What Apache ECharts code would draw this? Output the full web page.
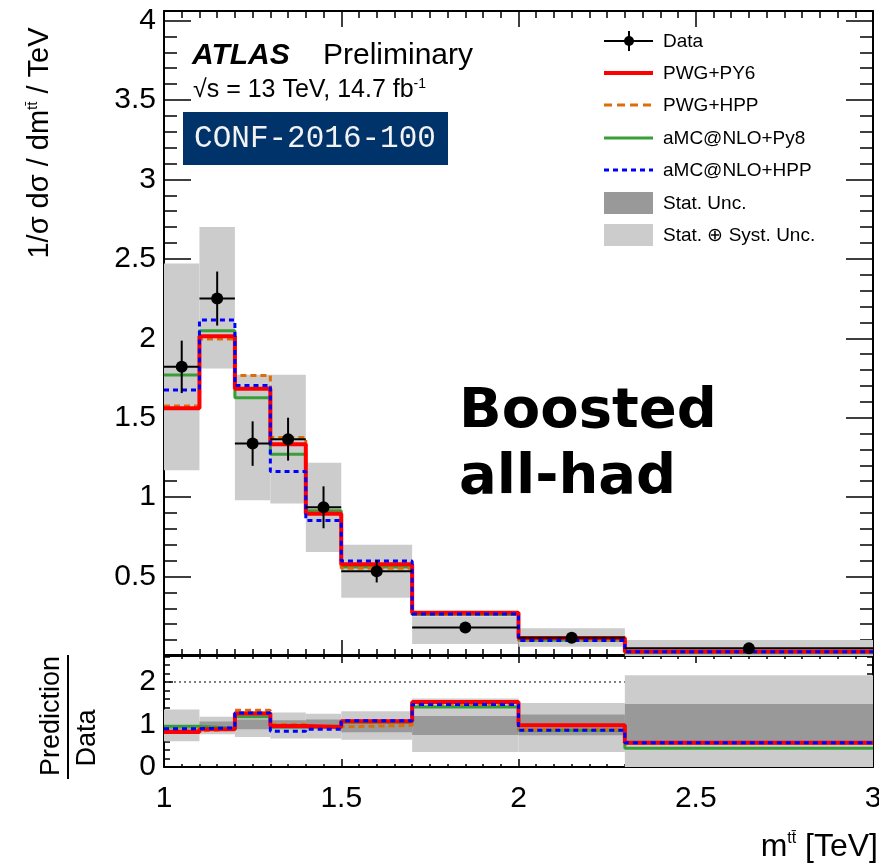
<!DOCTYPE html>
<html>
<head>
<meta charset="utf-8">
<script src="https://cdn.jsdelivr.net/npm/echarts@6/dist/echarts.min.js"></script>
<style>
html,body{margin:0;padding:0;background:#fff}
#chart{width:879px;height:863px}
</style>
</head>
<body>
<div id="chart"></div>
<script>
// m_tt bin edges [TeV]
const binEdges = [1.0, 1.1, 1.2, 1.3, 1.4, 1.5, 1.7, 2.0, 2.3, 3.0];

// Normalised differential cross-section, data
const dataValues  = [1.82, 2.25, 1.337, 1.365, 0.936, 0.533, 0.18, 0.115, 0.048];
const dataStatErr = [0.165, 0.17, 0.14, 0.135, 0.132, 0.07, 0.01, 0.006, 0.003];
const totalUncLow  = [1.17, 1.81, 0.98, 0.96, 0.654, 0.366, 0.075, 0.058, 0.0];
const totalUncHigh = [2.47, 2.70, 1.77, 1.77, 1.216, 0.70, 0.25, 0.174, 0.10];

// MC predictions
const pwgPy6 = [1.56, 2.012, 1.682, 1.333, 0.895, 0.577, 0.272, 0.113, 0.029];
const pwgHpp = [1.574, 1.996, 1.766, 1.375, 0.90, 0.552, 0.265, 0.102, 0.027];
const amcPy8 = [1.768, 2.048, 1.626, 1.27, 0.915, 0.56, 0.262, 0.099, 0.021];
const amcHpp = [1.674, 2.115, 1.703, 1.162, 0.853, 0.598, 0.265, 0.097, 0.027];

// Prediction / Data
const ratioPwgPy6 = [0.824, 0.887, 1.256, 0.965, 0.94, 1.075, 1.53, 0.98, 0.573];
const ratioPwgHpp = [0.85, 0.89, 1.334, 1.0, 0.945, 0.98, 1.47, 0.88, 0.57];
const ratioAmcPy8 = [0.957, 0.91, 1.18, 0.94, 0.965, 1.05, 1.41, 0.864, 0.44];
const ratioAmcHpp = [0.9, 0.92, 1.27, 0.84, 0.89, 1.09, 1.47, 0.864, 0.57];
const ratioStatLow  = [0.87, 0.93, 0.887, 0.89, 0.887, 0.82, 0.75, 0.746, 0.52];
const ratioStatHigh = [0.95, 1.07, 1.115, 1.1, 1.12, 1.12, 1.2, 1.233, 1.48];
const ratioTotLow   = [0.605, 0.77, 0.706, 0.668, 0.67, 0.64, 0.353, 0.353, -0.2];
const ratioTotHigh  = [1.35, 1.18, 1.31, 1.28, 1.255, 1.31, 1.61, 1.506, 2.16];
const ratioRefLine = 2;

// Tick labels
const xTickLabels = ['1', '1.5', '2', '2.5', '3'];
const mainYTickLabels = ['0.5', '1', '1.5', '2', '2.5', '3', '3.5', '4'];
const ratioYTickLabels = ['0', '1', '2'];

const FONT = "'Liberation Sans', Arial, Helvetica, sans-serif";
const COL = {
  red: '#ff0000', orange: '#dc6e0a', green: '#389e38', blue: '#0000ff',
  stat: '#999999', tot: '#cccccc'
};

const chart = echarts.init(document.getElementById('chart'), null, {renderer: 'canvas'});

function labelFormatter(list) {
  return function (v) {
    const s = String(+Number(v).toFixed(3));
    return list.indexOf(s) >= 0 ? s : '';
  };
}

function stepData(vals) {
  const pts = vals.map((v, i) => [binEdges[i], v]);
  pts.push([binEdges[binEdges.length - 1], vals[vals.length - 1]]);
  return pts;
}

function bandSeries(lo, hi, color, xi, yi, z) {
  return {
    type: 'custom', xAxisIndex: xi, yAxisIndex: yi, z: z, silent: true,
    data: lo.map((l, i) => [binEdges[i], binEdges[i + 1], l, hi[i]]),
    encode: {x: [0, 1], y: [2, 3]},
    renderItem: function (params, api) {
      const a = api.coord([api.value(0), api.value(3)]);
      const b = api.coord([api.value(1), api.value(2)]);
      const cs = params.coordSys;
      const shape = echarts.graphic.clipRectByRect(
        {x: a[0], y: a[1], width: b[0] - a[0], height: b[1] - a[1]},
        {x: cs.x, y: cs.y, width: cs.width, height: cs.height});
      if (!shape) return null;
      return {type: 'rect', shape: shape, style: {fill: color}};
    }
  };
}

function stepSeries(vals, color, width, dash, xi, yi, z) {
  return {
    type: 'line', step: 'end', xAxisIndex: xi, yAxisIndex: yi, z: z,
    data: stepData(vals), symbol: 'none', silent: true, clip: true,
    lineStyle: {color: color, width: width, type: dash || 'solid', cap: 'butt'}
  };
}

// Axes: major ticks with labels, plus separate minor-tick axes
function xAxisDef(grid, pos, showLabels, majorLen, minorLen) {
  return {
    type: 'value', gridIndex: grid, position: pos, offset: 0, min: 1, max: 3, interval: 0.5,
    axisLine: {show: true, onZero: false, lineStyle: {color: '#000', width: 2}},
    axisTick: {show: true, inside: true, length: majorLen, lineStyle: {color: '#000', width: 1.5}},
    minorTick: {show: true, splitNumber: 10, length: minorLen, lineStyle: {color: '#000', width: 1.5}},
    splitLine: {show: false}, minorSplitLine: {show: false},
    axisLabel: {show: showLabels, color: '#000', fontFamily: FONT, fontSize: 30, margin: 17,
      formatter: labelFormatter(xTickLabels)}
  };
}
function yAxisDef(grid, pos, min, max, interval, len, labels, showLine) {
  return {
    type: 'value', gridIndex: grid, position: pos, offset: 0, min: min, max: max, interval: interval,
    axisLine: {show: showLine, onZero: false, lineStyle: {color: '#000', width: 2}},
    axisTick: {show: true, inside: true, length: len, lineStyle: {color: '#000', width: 1.5}},
    splitLine: {show: false},
    axisLabel: labels ? {show: true, color: '#000', fontFamily: FONT, fontSize: 30, margin: 8,
      formatter: labelFormatter(labels)} : {show: false}
  };
}

const MAIN_MAX = 4.06, RATIO_MAX = 2.635;

const series = [
  // main panel
  bandSeries(totalUncLow, totalUncHigh, COL.tot, 0, 0, 1),
  stepSeries(amcPy8, COL.green, 3, null, 0, 0, 3),
  stepSeries(pwgHpp, COL.orange, 3, [6, 4], 0, 0, 4),
  stepSeries(pwgPy6, COL.red, 4, null, 0, 0, 5),
  stepSeries(amcHpp, COL.blue, 3, [5, 4], 0, 0, 6),
  {
    type: 'custom', xAxisIndex: 0, yAxisIndex: 0, z: 8, silent: true,
    data: dataValues.map((v, i) => [binEdges[i], binEdges[i + 1], (binEdges[i] + binEdges[i + 1]) / 2, v, dataStatErr[i]]),
    encode: {x: 2, y: 3},
    renderItem: function (params, api) {
      const x0 = api.value(0), x1 = api.value(1), xc = api.value(2), y = api.value(3), e = api.value(4);
      const pl = api.coord([x0, y]), pr = api.coord([x1, y]);
      const pt = api.coord([xc, y + e]), pb = api.coord([xc, y - e]);
      const pc = api.coord([xc, y]);
      const ls = {stroke: '#000', lineWidth: 2};
      return {type: 'group', children: [
        {type: 'line', shape: {x1: pl[0], y1: pl[1], x2: pr[0], y2: pr[1]}, style: ls},
        {type: 'line', shape: {x1: pt[0], y1: pt[1], x2: pb[0], y2: pb[1]}, style: ls},
        {type: 'circle', shape: {cx: pc[0], cy: pc[1], r: 6}, style: {fill: '#000'}}
      ]};
    }
  },
  // ratio panel
  {
    type: 'line', xAxisIndex: 2, yAxisIndex: 4, z: 0, silent: true, symbol: 'none',
    data: [[1, ratioRefLine], [3, ratioRefLine]],
    lineStyle: {color: '#000', width: 1, type: [2, 3]}
  },
  bandSeries(ratioTotLow, ratioTotHigh, COL.tot, 2, 4, 1),
  bandSeries(ratioStatLow, ratioStatHigh, COL.stat, 2, 4, 2),
  stepSeries(ratioAmcPy8, COL.green, 3, null, 2, 4, 3),
  stepSeries(ratioPwgHpp, COL.orange, 3, [6, 4], 2, 4, 4),
  stepSeries(ratioPwgPy6, COL.red, 4, null, 2, 4, 5),
  stepSeries(ratioAmcHpp, COL.blue, 3, [5, 4], 2, 4, 6)
];

// Legend, labels and annotations
const legendRows = [
  {name: 'Data', kind: 'data', y: 41},
  {name: 'PWG+PY6', kind: 'line', color: COL.red, width: 4, y: 73},
  {name: 'PWG+HPP', kind: 'line', color: COL.orange, width: 3, dash: [8, 5], y: 105},
  {name: 'aMC@NLO+Py8', kind: 'line', color: COL.green, width: 3, y: 138},
  {name: 'aMC@NLO+HPP', kind: 'line', color: COL.blue, width: 3, dash: [5, 4], y: 170},
  {name: 'Stat. Unc.', kind: 'box', color: COL.stat, y: 203},
  {name: 'Stat. \u2295 Syst. Unc.', kind: 'box', color: COL.tot, y: 235}
];
const graphics = [];
legendRows.forEach(function (r) {
  const x0 = 604, x1 = 653;
  if (r.kind === 'data') {
    graphics.push({type: 'line', shape: {x1: x0, y1: r.y, x2: x1, y2: r.y}, style: {stroke: '#000', lineWidth: 2}, z: 10});
    graphics.push({type: 'line', shape: {x1: 629, y1: r.y - 10, x2: 629, y2: r.y + 10}, style: {stroke: '#000', lineWidth: 2}, z: 10});
    graphics.push({type: 'circle', shape: {cx: 629, cy: r.y, r: 5}, style: {fill: '#000'}, z: 10});
  } else if (r.kind === 'line') {
    graphics.push({type: 'line', shape: {x1: x0, y1: r.y, x2: x1, y2: r.y},
      style: {stroke: r.color, lineWidth: r.width, lineDash: r.dash || null}, z: 10});
  } else {
    graphics.push({type: 'rect', shape: {x: x0, y: r.y - 11, width: x1 - x0, height: 22}, style: {fill: r.color}, z: 10});
  }
  graphics.push({type: 'text', x: 663, y: r.y + 1, z: 10,
    style: {text: r.name, fontFamily: FONT, fontSize: 19, fill: '#000', verticalAlign: 'middle', align: 'left'}});
});

graphics.push(
  {type: 'text', x: 192, y: 56, z: 10,
    style: {text: 'ATLAS', fontFamily: FONT, fontSize: 30, fontWeight: 'bold', fontStyle: 'italic', fill: '#000', verticalAlign: 'middle'}},
  {type: 'text', x: 323, y: 56, z: 10,
    style: {text: 'Preliminary', fontFamily: FONT, fontSize: 30, fill: '#000', verticalAlign: 'middle'}},
  {type: 'text', x: 193, y: 90, z: 10,
    style: {text: '{a|\u221As = 13 TeV, 14.7 fb}{s|-1}', fontFamily: FONT, fill: '#000', verticalAlign: 'middle',
      rich: {a: {fontFamily: FONT, fontSize: 25, fill: '#000'},
             s: {fontFamily: FONT, fontSize: 14, fill: '#000', verticalAlign: 'top', padding: [0, 0, 12, 0]}}}},
  {type: 'rect', shape: {x: 183, y: 112, width: 265, height: 53}, style: {fill: '#00336a'}, z: 10},
  {type: 'text', x: 315, y: 139, z: 11,
    style: {text: 'CONF-2016-100', fontFamily: "'Liberation Mono', 'DejaVu Sans Mono', monospace", fontSize: 31,
      fill: '#f2f2f2', align: 'center', verticalAlign: 'middle'}},
  {type: 'text', x: 459, y: 412, z: 10,
    style: {text: 'Boosted', fontFamily: "'DejaVu Sans', sans-serif", fontSize: 56, fontWeight: 'bold', fill: '#000', verticalAlign: 'middle'}},
  {type: 'text', x: 459, y: 478, z: 10,
    style: {text: 'all-had', fontFamily: "'DejaVu Sans', sans-serif", fontSize: 56, fontWeight: 'bold', fill: '#000', verticalAlign: 'middle'}},
  // main y-axis title
  {type: 'text', x: 40, y: 143, rotation: Math.PI / 2, z: 10,
    style: {text: '{a|1/\u03C3 d\u03C3 / dm}{s|tt\u0304}{a| / TeV}', align: 'center', verticalAlign: 'middle',
      rich: {a: {fontFamily: FONT, fontSize: 29, fill: '#000'},
             s: {fontFamily: FONT, fontSize: 15, fill: '#000', verticalAlign: 'top', padding: [0, 0, 14, 0]}}}},
  // ratio y-axis title
  {type: 'text', x: 52, y: 716, rotation: Math.PI / 2, z: 10,
    style: {text: 'Prediction', fontFamily: FONT, fontSize: 27, fill: '#000', align: 'center', verticalAlign: 'middle'}},
  {type: 'line', shape: {x1: 68, y1: 655, x2: 68, y2: 779}, style: {stroke: '#000', lineWidth: 2}, z: 10},
  {type: 'text', x: 88, y: 738, rotation: Math.PI / 2, z: 10,
    style: {text: 'Data', fontFamily: FONT, fontSize: 27, fill: '#000', align: 'center', verticalAlign: 'middle'}},
  // x-axis title
  {type: 'text', x: 878, y: 847, z: 10,
    style: {text: '{a|m}{s|tt\u0304}{a| [TeV]}', align: 'right', verticalAlign: 'middle',
      rich: {a: {fontFamily: FONT, fontSize: 32, fill: '#000'},
             s: {fontFamily: FONT, fontSize: 16, fill: '#000', verticalAlign: 'top', padding: [0, 0, 14, 0]}}}}
);

const option = {
  animation: false,
  backgroundColor: '#fff',
  grid: [
    {left: 164, top: 11, width: 709, height: 645, show: false, outerBoundsMode: 'none', containLabel: false},
    {left: 164, top: 655, width: 709, height: 112, show: false, outerBoundsMode: 'none', containLabel: false}
  ],
  xAxis: [
    xAxisDef(0, 'bottom', false, 16, 7),
    xAxisDef(0, 'top', false, 16, 7),
    xAxisDef(1, 'bottom', true, 8, 3),
    xAxisDef(1, 'top', false, 8, 4)
  ],
  yAxis: [
    yAxisDef(0, 'left', 0, MAIN_MAX, 0.5, 27, mainYTickLabels, true),
    yAxisDef(0, 'left', 0, MAIN_MAX, 0.1, 13, null, false),
    yAxisDef(0, 'right', 0, MAIN_MAX, 0.5, 27, null, true),
    yAxisDef(0, 'right', 0, MAIN_MAX, 0.1, 13, null, false),
    yAxisDef(1, 'left', 0, RATIO_MAX, 1, 9, ratioYTickLabels, true),
    yAxisDef(1, 'left', 0, RATIO_MAX, 0.2, 6, null, false),
    yAxisDef(1, 'right', 0, RATIO_MAX, 1, 9, null, true),
    yAxisDef(1, 'right', 0, RATIO_MAX, 0.2, 6, null, false)
  ],
  series: series,
  graphic: graphics
};
chart.setOption(option);
</script>
</body>
</html>
